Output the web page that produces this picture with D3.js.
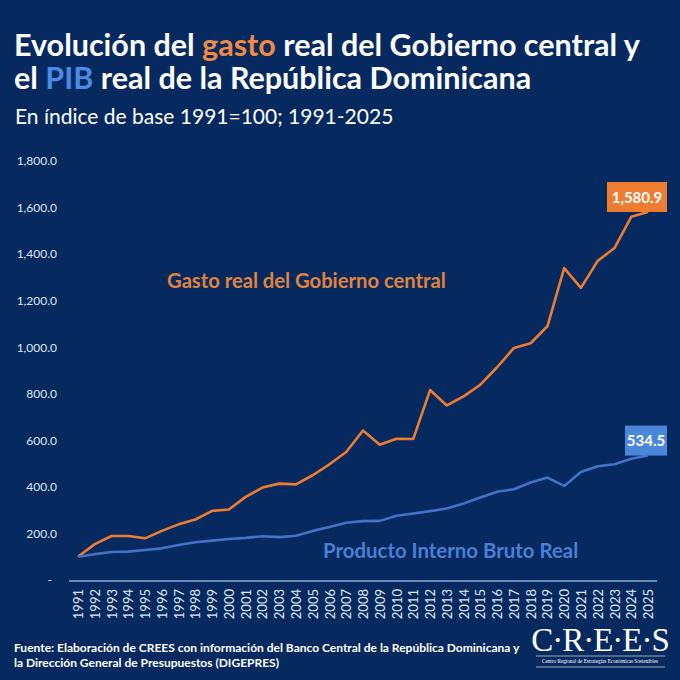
<!DOCTYPE html>
<html>
<head>
<meta charset="utf-8">
<script src="https://cdn.jsdelivr.net/npm/d3@7"></script>
<style>
  html, body { margin: 0; padding: 0; background: #062a5f; }
  svg { display: block; }
</style>
</head>
<body>
<div id="chart"></div>
<script>
const years = d3.range(1991, 2026).map(String);
const gasto = [100, 154, 189, 189, 179, 211, 239, 260, 297, 303, 357, 397, 414, 411, 450, 497, 550, 642, 581, 607, 606, 816, 750, 789, 839, 914, 997, 1017, 1090, 1340, 1255, 1371, 1426, 1560, 1580.9];
const pib = [100, 111, 120, 122, 129, 136, 150, 162, 169, 176, 181, 188, 184, 190, 211, 228, 246, 253, 254, 276, 286, 296, 307, 329, 354, 379, 390, 419, 440, 404, 464, 489, 497, 521, 534.5];
const yTicks = [0, 200, 400, 600, 800, 1000, 1200, 1400, 1600, 1800];

const W = 680, H = 680;
const BG = "#062a5f";
const ORANGE = "#ed7d31";
const BLUE = "#4472c4";
const FONT = "Lato, 'Open Sans', sans-serif";

const svg = d3.select("#chart").append("svg").attr("width", W).attr("height", H)
  .style("font-family", FONT);
svg.append("rect").attr("width", W).attr("height", H).attr("fill", BG);

// Title
const t1 = svg.append("text").attr("x", 14).attr("y", 56)
  .attr("font-size", 30.5).attr("font-weight", 700).attr("fill", "#ffffff");
t1.append("tspan").text("Evolución del ");
t1.append("tspan").attr("fill", "#f08a44").text("gasto");
t1.append("tspan").text(" real del Gobierno central y");
const t2 = svg.append("text").attr("x", 14).attr("y", 89)
  .attr("font-size", 30.5).attr("font-weight", 700).attr("fill", "#ffffff");
t2.append("tspan").text("el ");
t2.append("tspan").attr("fill", "#4a8ae6").text("PIB");
t2.append("tspan").text(" real de la República Dominicana");
svg.append("text").attr("x", 15).attr("y", 124)
  .attr("font-size", 21).attr("fill", "#ffffff")
  .text("En índice de base 1991=100; 1991-2025");

// Scales
const x = d3.scalePoint().domain(years).range([78, 648]);
const y = d3.scaleLinear().domain([0, 1800]).range([580, 161]);

// Y axis
const yAxis = svg.append("g").attr("transform", "translate(57,0)")
  .call(d3.axisLeft(y).tickValues(yTicks).tickSize(0).tickPadding(0)
    .tickFormat(d => d === 0 ? "-" : d3.format(",.1f")(d)));
yAxis.select(".domain").remove();
yAxis.selectAll("text").attr("font-family", FONT).attr("font-size", 12).attr("fill", "#dfe6f2");
yAxis.selectAll(".tick").filter(d => d === 0).select("text").attr("dx", -5);

// X axis
const xAxis = svg.append("g").attr("transform", "translate(0,581)")
  .call(d3.axisBottom(x).tickSize(0).tickPadding(0));
xAxis.select(".domain").remove();
xAxis.selectAll("text")
  .attr("font-family", FONT).attr("font-size", 13).attr("fill", "#dfe6f2")
  .attr("transform", "rotate(-90)")
  .attr("text-anchor", "end")
  .attr("x", -8).attr("y", 0).attr("dy", "0.35em");
svg.append("line").attr("x1", 69).attr("x2", 657).attr("y1", 581).attr("y2", 581)
  .attr("stroke", "#8faadc").attr("stroke-width", 1.5);

// Lines
const line = d3.line().x((d, i) => x(years[i])).y(d => y(d));
svg.append("path").datum(gasto).attr("d", line).attr("fill", "none")
  .attr("stroke", ORANGE).attr("stroke-width", 2.6).attr("stroke-linejoin", "round");
svg.append("path").datum(pib).attr("d", line).attr("fill", "none")
  .attr("stroke", BLUE).attr("stroke-width", 2.6).attr("stroke-linejoin", "round");

// Series labels
svg.append("text").attr("x", 167).attr("y", 288).attr("font-size", 20.2).attr("font-weight", 700)
  .attr("fill", "#e0833c").text("Gasto real del Gobierno central");
svg.append("text").attr("x", 323).attr("y", 558).attr("font-size", 20.4).attr("font-weight", 700)
  .attr("fill", "#4a7fd4").text("Producto Interno Bruto Real");

// End value labels
function endLabel(val, color, txt, left, right) {
  const cy = y(val);
  const g = svg.append("g");
  const h = 30, w = right - left;
  g.append("rect").attr("x", left).attr("y", cy - h).attr("width", w).attr("height", h).attr("fill", color);
  g.append("text").attr("font-size", 15).attr("font-weight", 700).attr("fill", "#ffffff")
    .attr("text-anchor", "middle").attr("x", left + w / 2).attr("y", cy - h / 2 + 5.5).text(txt);
}
endLabel(gasto[gasto.length - 1], "#ed7d31", "1,580.9", 607, 667);
endLabel(pib[pib.length - 1], "#4a86d9", "534.5", 625, 667);

// Footer
svg.append("text").attr("x", 14).attr("y", 652).attr("font-size", 12).attr("font-weight", 700)
  .attr("fill", "#ffffff").text("Fuente: Elaboración de CREES con información del Banco Central de la República Dominicana y");
svg.append("text").attr("x", 14).attr("y", 667).attr("font-size", 12).attr("font-weight", 700)
  .attr("fill", "#ffffff").text("la Dirección General de Presupuestos (DIGEPRES)");

// Logo
svg.append("text").attr("x", 600).attr("y", 651).attr("text-anchor", "middle")
  .attr("font-family", "'Liberation Serif', 'DejaVu Serif', serif").attr("font-size", 33)
  .attr("letter-spacing", -1).attr("fill", "#ffffff").text("C·R·E·E·S");
svg.append("line").attr("x1", 536).attr("x2", 665).attr("y1", 656).attr("y2", 656)
  .attr("stroke", "#ffffff").attr("stroke-width", 0.6);
svg.append("text").attr("x", 600).attr("y", 663).attr("text-anchor", "middle")
  .attr("font-family", "'Liberation Serif', 'DejaVu Serif', serif").attr("font-size", 5.2)
  .attr("fill", "#ffffff").text("Centro Regional de Estrategias Económicas Sostenibles");
svg.append("line").attr("x1", 536).attr("x2", 665).attr("y1", 667).attr("y2", 667)
  .attr("stroke", "#ffffff").attr("stroke-width", 0.6);
</script>
</body>
</html>
